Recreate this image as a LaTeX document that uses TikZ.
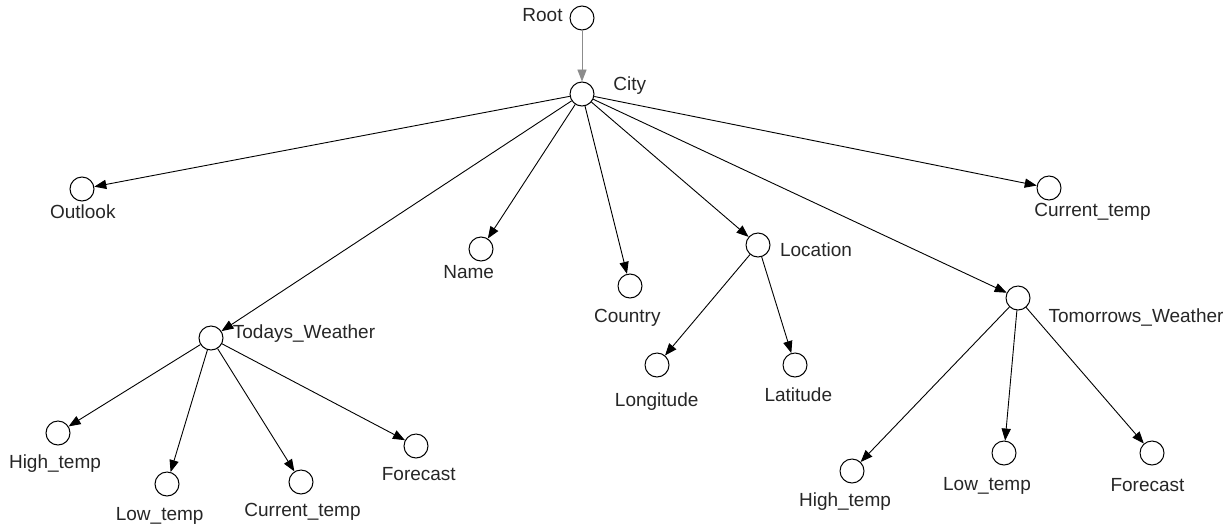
\documentclass[tikz,border=0pt]{standalone}
\usepackage{fontspec}
\setmainfont{Liberation Sans}
\usetikzlibrary{arrows.meta}
\begin{document}
\begin{tikzpicture}[x=0.5pt,y=-0.5pt,
  vert/.style={circle,draw,line width=0.5pt,minimum size=12pt,inner sep=0pt},
  lbl/.style={anchor=base,inner sep=0pt,text=black!85,font=\fontsize{9.5pt}{11pt}\selectfont},
  edge/.style={line width=0.45pt,-{Triangle[length=6pt,width=4.6pt]}},
  grayedge/.style={edge,draw=black!45}]
\useasboundingbox (0,0) rectangle (1230,525);
% vertices
\node[vert] (root) at (582,18) {};
\node[vert] (city) at (582,94) {};
\node[vert] (outlook) at (82,189) {};
\node[vert] (todays) at (211,338) {};
\node[vert] (name) at (481,249) {};
\node[vert] (country) at (630,286) {};
\node[vert] (location) at (758,245) {};
\node[vert] (curtop) at (1049,188) {};
\node[vert] (tomorrow) at (1018,298) {};
\node[vert] (highl) at (58,433) {};
\node[vert] (lowl) at (167,484) {};
\node[vert] (curl) at (301,482) {};
\node[vert] (forel) at (416,446) {};
\node[vert] (longi) at (657,365) {};
\node[vert] (lati) at (795,365) {};
\node[vert] (highr) at (852,471) {};
\node[vert] (lowr) at (1004,453) {};
\node[vert] (forer) at (1152,453) {};
% labels
\node[lbl] (troot) at (542.5,21.7) {Root};
\node[lbl] (tcity) at (629.7,90) {City};
\node[lbl] (toutlook) at (82.8,218.3) {Outlook};
\node[lbl] (ttodays) at (304,338.3) {Todays\_Weather};
\node[lbl] (tname) at (468.7,278.3) {Name};
\node[lbl] (tcountry) at (627.3,322.7) {Country};
\node[lbl] (tlocation) at (816,256.7) {Location};
\node[lbl] (tcurtop) at (1092.5,216.7) {Current\_temp};
\node[lbl] (ttomorrow) at (1136,322.7) {Tomorrows\_Weather};
\node[lbl] (thighl) at (55,468.3) {High\_temp};
\node[lbl] (tlowl) at (159.7,520.7) {Low\_temp};
\node[lbl] (tcurl) at (302.5,516) {Current\_temp};
\node[lbl] (tforel) at (418.8,480) {Forecast};
\node[lbl] (tlongi) at (656.7,406.7) {Longitude};
\node[lbl] (tlati) at (798.3,401.7) {Latitude};
\node[lbl] (thighr) at (845,506) {High\_temp};
\node[lbl] (tlowr) at (987,490.7) {Low\_temp};
\node[lbl] (tforer) at (1147.5,491.7) {Forecast};
% edges
\draw[grayedge] (root) -- (city);
\foreach \t in {outlook,todays,name,country,location,tomorrow,curtop}
  \draw[edge] (city) -- (\t);
\foreach \t in {highl,lowl,curl,forel}
  \draw[edge] (todays) -- (\t);
\foreach \t in {longi,lati}
  \draw[edge] (location) -- (\t);
\foreach \t in {highr,lowr,forer}
  \draw[edge] (tomorrow) -- (\t);
\end{tikzpicture}
\end{document}
